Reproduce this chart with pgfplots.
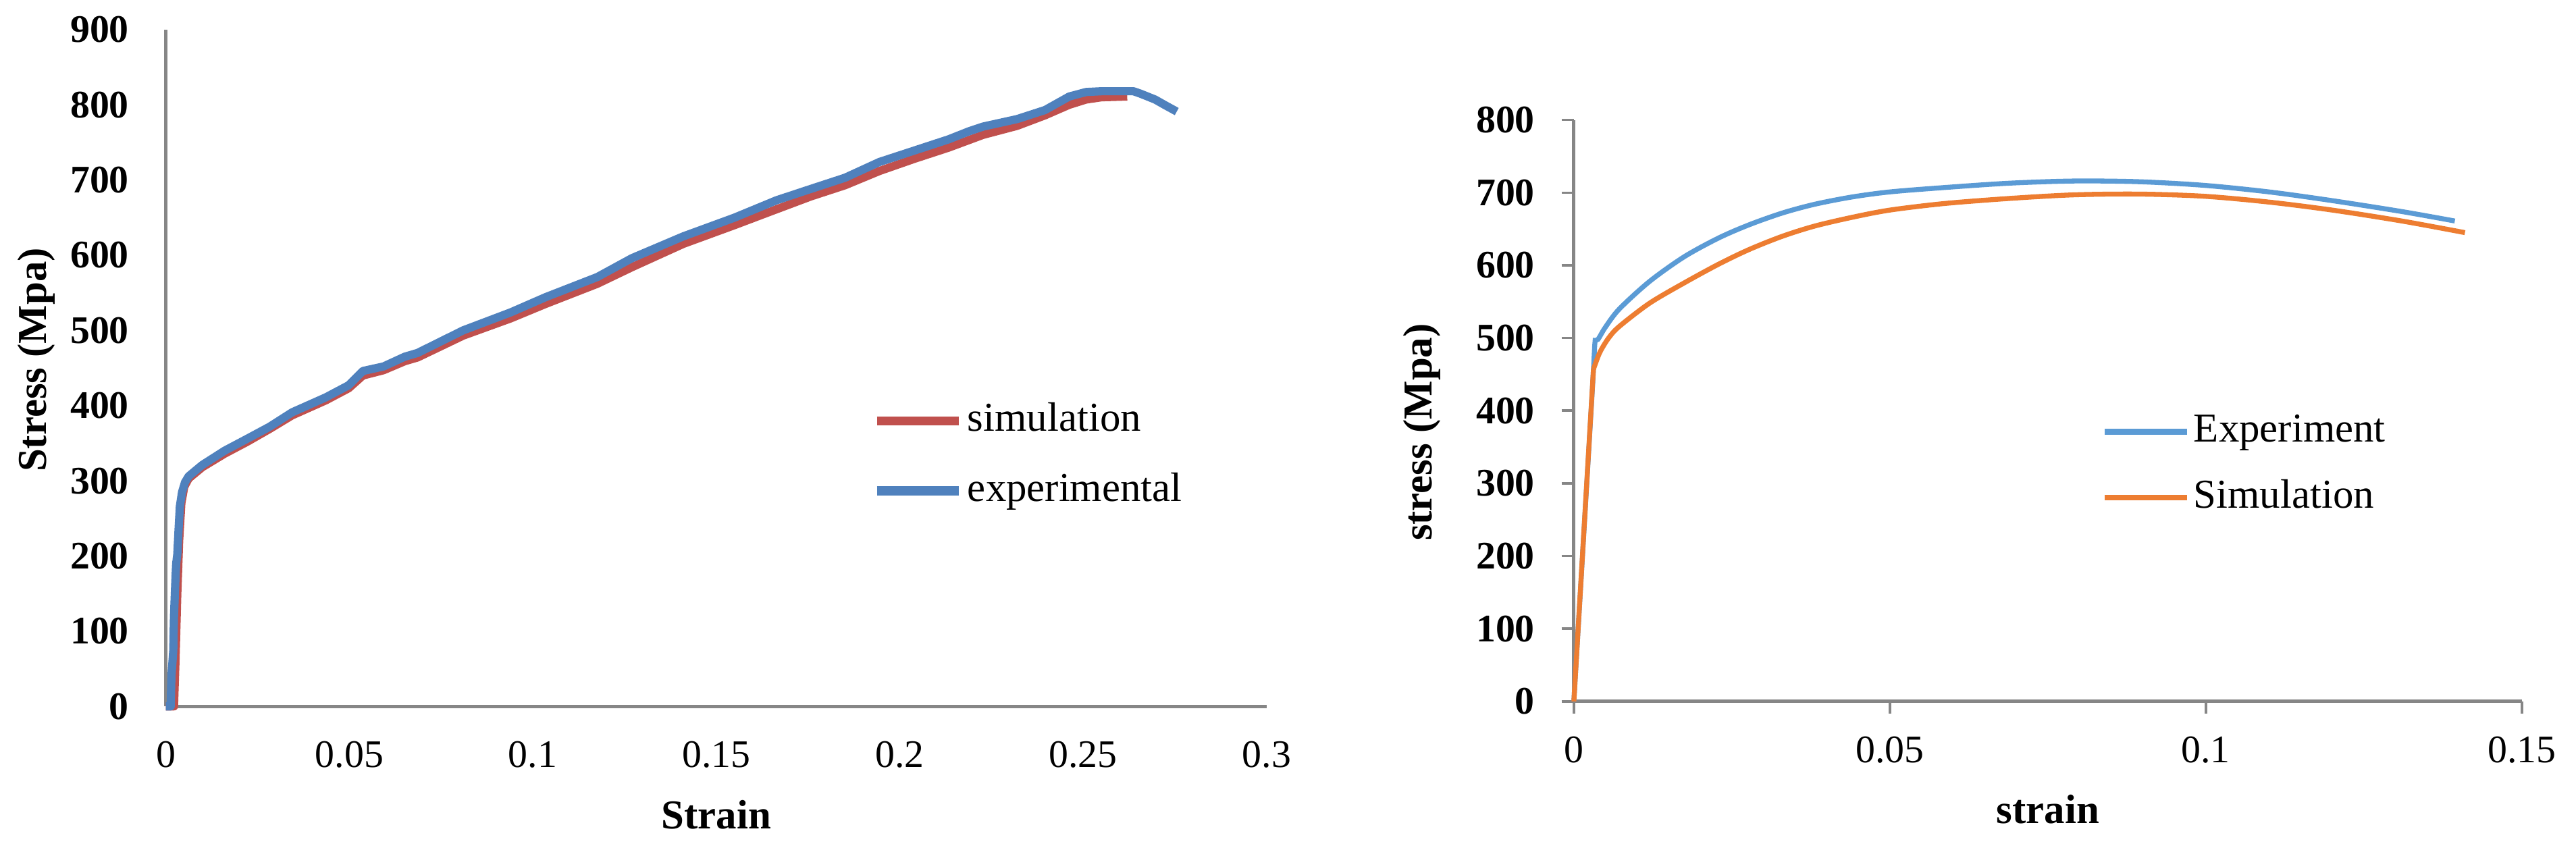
\documentclass[border=0pt]{standalone}
\usepackage{fontspec}
\setmainfont{Liberation Serif}
\usepackage{pgfplots}
\pgfplotsset{compat=1.18}

\definecolor{simred}{HTML}{C0504D}
\definecolor{expblue}{HTML}{4F81BD}
\definecolor{lblue}{HTML}{5B9BD5}
\definecolor{lorange}{HTML}{ED7D31}
\definecolor{axgray}{HTML}{868686}

\newcommand\labfont{\fontsize{10}{12}\selectfont\bfseries}

\pgfplotsset{
  stressplot/.style={
    scale only axis,
    axis lines*=left,
    axis line style={color=axgray, line width=0.8pt},
    ymin=0,
    xmin=0,
    clip=false,
    xticklabel style={font=\fontsize{9.5}{11}\selectfont},
    yticklabel style={font=\fontsize{9.5}{11}\selectfont\bfseries},
    /pgf/number format/assume math mode=true,
    legend style={draw=none, fill=none, inner sep=0pt,
      font=\fontsize{10}{12}\selectfont,
      nodes={inner sep=1pt, text height=7pt, text depth=2pt}},
    legend cell align=left,
  }
}

\begin{document}
\begin{tikzpicture}
\useasboundingbox (-40.4pt,-34.4pt) rectangle (586.8pt,172pt);

% left: stress-strain, simulation vs experimental
\begin{axis}[stressplot,
    at={(0pt,0pt)}, anchor=south west,
    width=268pt, height=164.8pt,
    xmax=0.3, ymax=900,
    xtick={0,0.05,0.1,0.15,0.2,0.25,0.3},
    xticklabels={0,0.05,0.1,0.15,0.2,0.25,0.3},
    ytick={0,100,...,900},
    major tick length=0pt,
    xticklabel style={yshift=-5pt},
    yticklabel style={xshift=-5.5pt},
    xlabel={Strain}, ylabel={Stress (Mpa)},
    every axis x label/.style={at={(axis description cs:0.5,-0.16)}, anchor=center, font=\labfont},
    every axis y label/.style={at={(axis description cs:-0.118,0.512)}, rotate=90, anchor=center, font=\labfont},
    legend style={at={(0.641,0.37)}, anchor=west, row sep=6pt},
    legend image code/.code={\draw[#1, line width=2.2pt] (0pt,0pt) -- (20pt,0pt);},
]
\addplot[color=simred, line width=2pt, line join=round] coordinates {
(0,0)(0.0022,0)(0.0026,60)(0.0031,150)(0.0036,220)(0.0042,270)(0.0050,292)
(0.0062,303)(0.0099,318)(0.016,336)(0.0222,352)(0.0283,369)(0.0344,387)
(0.0436,407)(0.0498,423)(0.0537,440)(0.0593,447)(0.0651,459)(0.0686,464)
(0.081,493)(0.094,516)(0.1034,535)(0.1176,562)(0.127,584)(0.141,615)
(0.155,640)(0.1664,661)(0.1757,678)(0.1851,693)(0.1945,712)(0.2039,728)
(0.2133,743)(0.2227,760)(0.232,772)(0.2396,786)(0.2462,800)(0.2508,807)
(0.255,810)(0.262,811)
};
\addlegendentry{simulation}
\addplot[color=expblue, line width=2pt, line join=round] coordinates {
(0,0)(0.0013,0)(0.0015,40)(0.0020,74)(0.0022,120)(0.0026,170)(0.0028,190)
(0.0031,202)(0.0035,240)(0.0038,266)(0.0044,285)(0.0052,298)(0.0062,306)
(0.0099,321)(0.016,340)(0.0222,356)(0.0283,372)(0.0344,391)(0.0436,411)
(0.0498,427)(0.0537,446)(0.0593,452)(0.0651,465)(0.0686,470)(0.081,500)
(0.094,524)(0.1034,544)(0.1176,571)(0.127,596)(0.141,625)(0.155,650)
(0.1664,673)(0.1757,688)(0.1851,703)(0.1945,724)(0.2039,739)(0.2133,754)
(0.219,765)(0.2227,771)(0.232,781)(0.2396,793)(0.2462,811)(0.2508,817)
(0.255,818)(0.260,818)(0.2637,818)(0.2655,815)(0.2696,807)(0.2725,799)
(0.2755,791)
};
\addlegendentry{experimental}
\end{axis}

% right: stress-strain, experiment vs simulation
\begin{axis}[stressplot,
    at={(342.8pt,1.2pt)}, anchor=south west,
    width=230.8pt, height=141.6pt,
    xmax=0.15, ymax=800,
    xtick={0,0.05,0.1,0.15},
    xticklabels={0,0.05,0.1,0.15},
    ytick={0,100,...,800},
    tick align=outside,
    major tick length=3pt,
    tick style={color=axgray, line width=0.6pt},
    xticklabel style={yshift=-2pt},
    yticklabel style={xshift=-3pt},
    xlabel={strain}, ylabel={stress (Mpa)},
    every axis x label/.style={at={(axis description cs:0.5,-0.186)}, anchor=center, font=\labfont},
    every axis y label/.style={at={(axis description cs:-0.160,0.463)}, rotate=90, anchor=center, font=\labfont},
    legend style={at={(0.556,0.407)}, anchor=west, row sep=5pt},
    legend image code/.code={\draw[#1, line width=1.4pt] (0pt,0pt) -- (20pt,0pt);},
]
% elastic part straight, hardening part smoothed
\addplot[color=lblue, line width=1.2pt, line join=round] coordinates {
(0,0)(0.0030,440)(0.0033,490)(0.0034,500)
};
\addplot[color=lblue, line width=1.2pt, smooth, tension=0.5, forget plot] coordinates {
(0.0034,500)(0.0038,498)(0.0050,515)(0.0072,540)
(0.0120,578)(0.0175,612)(0.0230,638)(0.0278,656)(0.0330,672)(0.0381,684)
(0.0440,694)(0.05,701)(0.0586,707)(0.0689,713)(0.0792,716)(0.0895,715)
(0.0998,710)(0.110,701)(0.120,689)(0.131,674)(0.1394,661)
};
\addlegendentry{Experiment}
\addplot[color=lorange, line width=1.2pt, line join=round] coordinates {
(0,0)(0.0031,457)
};
\addplot[color=lorange, line width=1.2pt, smooth, tension=0.5, forget plot] coordinates {
(0.0031,457)(0.0041,480)(0.0055,500)(0.0072,516)(0.0120,548)(0.0175,576)
(0.0230,602)(0.0278,622)(0.0330,640)(0.0381,654)(0.0440,666)(0.05,676)
(0.0586,685)(0.0689,692)(0.0792,697)(0.0895,698)(0.0998,695)(0.110,687)
(0.120,676)(0.131,661)(0.141,645)
};
\addlegendentry{Simulation}
\end{axis}
\end{tikzpicture}
\end{document}
